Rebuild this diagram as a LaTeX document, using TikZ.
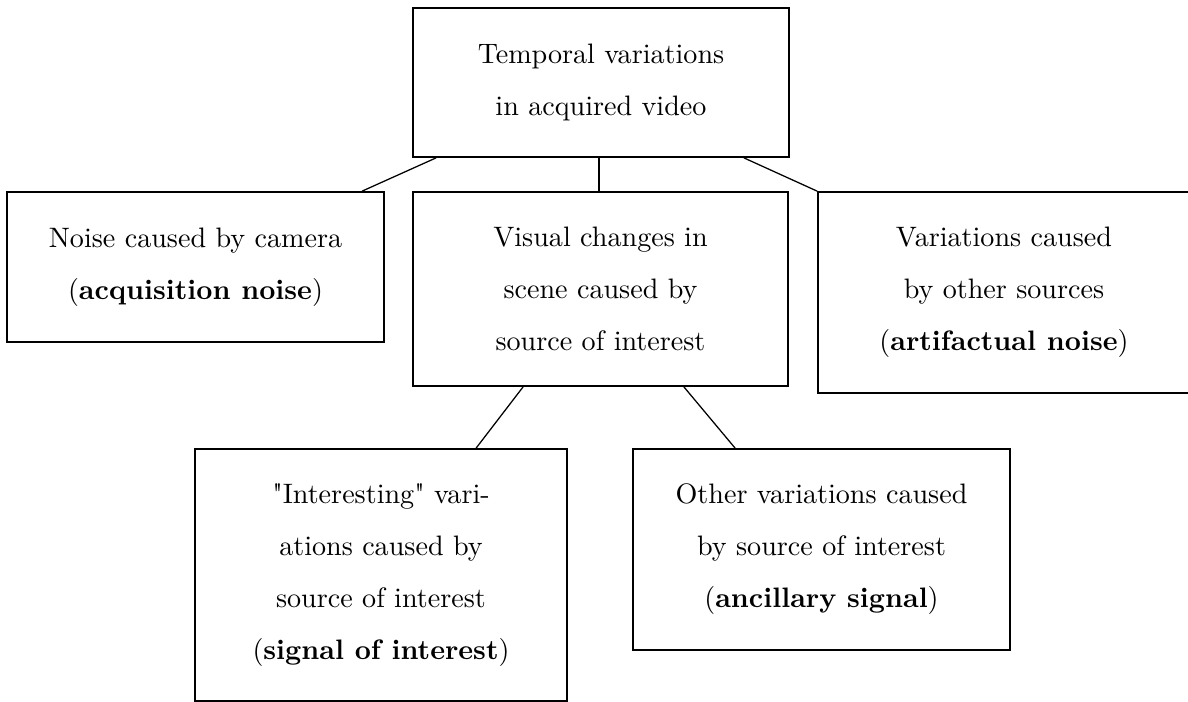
\documentclass[tikz,border=0pt]{standalone}
\usetikzlibrary{calc}

\begin{document}
\begin{tikzpicture}[x=0.0125cm,y=-0.0125cm,
  box/.style={draw,line width=0.6pt,align=center,
              font=\fontsize{10}{18.5}\selectfont},
  link/.style={line width=0.45pt}]
  \useasboundingbox (0,0) rectangle (1188,702);
  % top level
  \node[box,minimum width=4.7cm,minimum height=1.8625cm] (TV) at (601,82.5)
        {Temporal variations\\ in acquired video};
  % second level
  \node[box,minimum width=4.7125cm,minimum height=1.875cm] (AN) at (195.5,267)
        {Noise caused by camera\\ (\textbf{acquisition noise})};
  \node[box,minimum width=4.6875cm,minimum height=2.425cm] (VC) at (600.5,289)
        {Visual changes in\\ scene caused by\\ source of interest};
  \node[box,minimum width=4.65cm,minimum height=2.5125cm] (AR) at (1004,292.5)
        {Variations caused\\ by other sources\\ (\textbf{artifactual noise})};
  % third level
  \node[box,minimum width=4.65cm,minimum height=3.15cm] (SI) at (381,575)
        {\textquotedbl Interesting\textquotedbl\ vari-\\ ations caused by\\
        source of interest\\ (\textbf{signal of interest})};
  \node[box,minimum width=4.7125cm,minimum height=2.5125cm] (AS) at (821.5,549.5)
        {Other variations caused\\ by source of interest\\
        (\textbf{ancillary signal})};
  % links
  \draw[link] ($(TV.south west)+(24,0)$) -- ($(AN.north west)+(356,0)$);
  \draw[link] ($(TV.south)+(-2,0)$) -- ($(TV.south |- VC.north)+(-2,0)$);
  \draw[link] ($(TV.south east)+(-46,0)$) -- (AR.north west);
  \draw[link] ($(VC.south west)+(111,0)$) -- ($(SI.north west)+(282,0)$);
  \draw[link] ($(VC.south east)+(-105,0)$) -- ($(AS.north west)+(103,0)$);
\end{tikzpicture}
\end{document}
